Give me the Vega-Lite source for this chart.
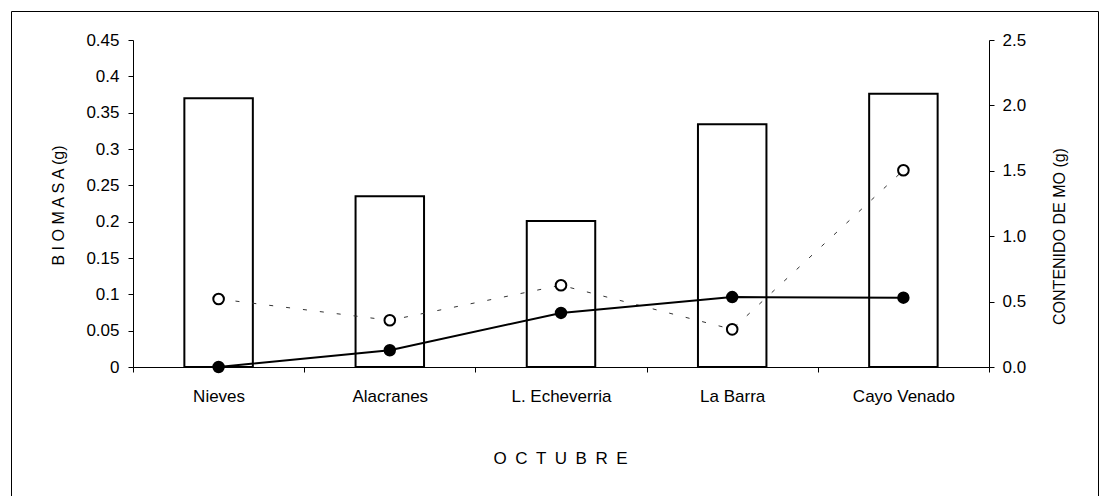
{
  "$schema": "https://vega.github.io/schema/vega-lite/v6.json",
  "autosize": "none",
  "width": 1087,
  "height": 490,
  "padding": {"left": 11, "top": 11, "right": 5, "bottom": 0},
  "background": "white",
  "data": {
    "values": [
      {"sitio": "Nieves", "biomasa": 0.370, "mo_abierto": 0.52, "mo_lleno": 0.0},
      {"sitio": "Alacranes", "biomasa": 0.235, "mo_abierto": 0.357, "mo_lleno": 0.128},
      {"sitio": "L. Echeverria", "biomasa": 0.201, "mo_abierto": 0.625, "mo_lleno": 0.413},
      {"sitio": "La Barra", "biomasa": 0.334, "mo_abierto": 0.288, "mo_lleno": 0.535},
      {"sitio": "Cayo Venado", "biomasa": 0.376, "mo_abierto": 1.504, "mo_lleno": 0.53}
    ]
  },
  "encoding": {
    "x": {
      "field": "sitio",
      "type": "nominal",
      "sort": null,
      "scale": {"paddingInner": 0, "paddingOuter": 0, "range": [122, 978]},
      "axis": {
        "title": "O\u2002C\u2002T\u2002U\u2002B\u2002R\u2002E",
        "offset": -134,
        "labelAngle": 0,
        "tickBand": "extent",
        "tickSize": 5,
        "labelPadding": 16,
        "labelFontSize": 17,
        "titleFontSize": 17,
        "titleBaseline": "alphabetic",
        "titleX": 549,
        "titleY": 96
      }
    }
  },
  "layer": [
    {
      "mark": {"type": "bar", "fill": "white", "stroke": "black", "strokeWidth": 2, "width": {"band": 0.4}},
      "encoding": {
        "y": {
          "field": "biomasa",
          "type": "quantitative",
          "scale": {"domain": [0, 0.45], "nice": false, "range": [356, 29]},
          "axis": {
            "title": "B I O M A S A (g)",
            "offset": -122,
            "values": [0, 0.05, 0.1, 0.15, 0.2, 0.25, 0.3, 0.35, 0.4, 0.45],
            "format": "~g",
            "tickSize": 5,
            "labelPadding": 9,
            "labelFontSize": 17,
            "titleFontSize": 16,
            "titleBaseline": "alphabetic",
            "titleX": -70,
            "titleY": 194
          }
        }
      }
    },
    {
      "layer": [
        {
          "mark": {"type": "line", "stroke": "#333333", "strokeWidth": 1, "strokeDash": [4, 13]},
          "encoding": {
            "y": {"field": "mo_abierto", "type": "quantitative", "scale": {"domain": [0, 2.5], "nice": false, "range": [356, 29]},
              "axis": {"title": "CONTENIDO DE MO (g)", "orient": "right", "offset": -109, "values": [0, 0.5, 1, 1.5, 2, 2.5], "format": ".1f",
                "tickSize": 5, "labelPadding": 8, "labelFontSize": 17, "titleFontSize": 16, "titleAngle": 270,
                "titleBaseline": "alphabetic", "titleX": 75, "titleY": 225}}
          }
        },
        {
          "mark": {"type": "point", "shape": "circle", "filled": true, "fill": "white", "stroke": "black", "strokeWidth": 2, "size": 113, "opacity": 1},
          "encoding": {
            "y": {"field": "mo_abierto", "type": "quantitative"}
          }
        },
        {
          "mark": {"type": "line", "stroke": "black", "strokeWidth": 2},
          "encoding": {
            "y": {"field": "mo_lleno", "type": "quantitative"}
          }
        },
        {
          "mark": {"type": "point", "shape": "circle", "filled": true, "fill": "black", "size": 154, "opacity": 1},
          "encoding": {
            "y": {"field": "mo_lleno", "type": "quantitative"}
          }
        }
      ]
    }
  ],
  "resolve": {"scale": {"y": "independent"}},
  "config": {
    "view": {"stroke": "black", "strokeWidth": 1},
    "axis": {
      "grid": false,
      "domainColor": "black",
      "tickColor": "black",
      "labelColor": "black",
      "titleColor": "black",
      "labelFont": "Liberation Sans",
      "titleFont": "Liberation Sans",
      "titleFontWeight": "normal"
    }
  }
}
